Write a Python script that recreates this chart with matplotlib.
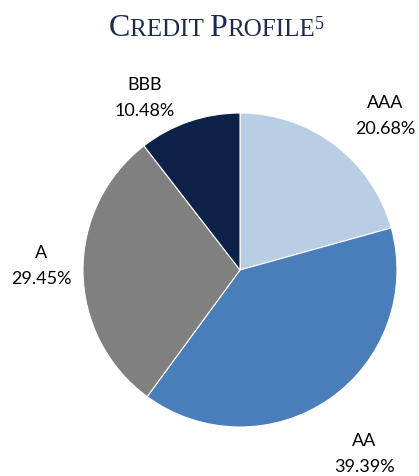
import matplotlib
matplotlib.use("Agg")
import matplotlib.pyplot as plt

labels = ["AAA", "AA", "A", "BBB"]
values = [20.68, 39.39, 29.45, 10.48]
colors = ["#B9CDE5", "#4A7EBB", "#808080", "#0D2249"]
label_pos = [(385, 116), (364, 454), (41, 266), (145, 98)]  # pixel centers (x, y from top)

W, H = 419, 476
fig = plt.figure(figsize=(W / 100, H / 100), dpi=100)
cx, cy, r = 240, 270, 157
ax = fig.add_axes([(cx - r) / W, (H - cy - r) / H, 2 * r / W, 2 * r / H])
ax.pie(values, colors=colors, startangle=90, counterclock=False,
       wedgeprops=dict(edgecolor="white", linewidth=0.8))
ax.set_aspect("equal")
ax.set_xlim(-1, 1)
ax.set_ylim(-1, 1)

for lab, v, (px, py) in zip(labels, values, label_pos):
    fig.text(px / W, 1 - py / H, f"{lab}\n{v:.2f}%", ha="center", va="center",
             fontsize=13, family="Lato", linespacing=1.75, color="black")

# Title in small caps
navy = "#1B2A4E"
pieces = [("C", 23, 36), ("REDIT ", 18, 36), ("P", 23, 36), ("ROFILE", 18, 36), ("5", 13, 29)]
fig.canvas.draw()
renderer = fig.canvas.get_renderer()
texts = []
for s, sz, base in pieces:
    t = fig.text(0, 1 - base / H, s, fontsize=sz, family="Liberation Serif", color=navy,
                 ha="left", va="baseline")
    texts.append(t)
widths = [t.get_window_extent(renderer).width for t in texts]
total = sum(widths)
x = 216 - total / 2
for t, w in zip(texts, widths):
    t.set_x(x / W)
    x += w

fig.savefig("out.png", dpi=100)
